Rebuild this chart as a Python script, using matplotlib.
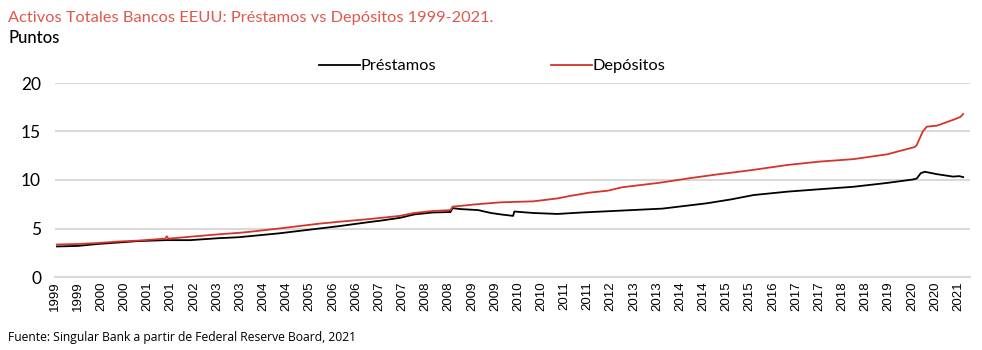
import matplotlib
matplotlib.use("Agg")
import matplotlib.pyplot as plt

# --- data (decimal years) ---
prest_x = [1999.0, 1999.5, 2000.0, 2000.5, 2001.0, 2001.7, 2002.3, 2003.0, 2003.5, 2004.0,
           2004.5, 2005.0, 2005.5, 2006.0, 2006.8, 2007.0, 2007.5, 2007.85, 2008.3, 2008.75,
           2008.8, 2009.0, 2009.43, 2009.75, 2010.0, 2010.3, 2010.33, 2010.8, 2011.4, 2012.0,
           2012.5, 2013.0, 2013.5, 2014.0, 2014.3, 2014.7, 2015.1, 2015.7, 2016.26, 2017.1,
           2017.9, 2018.73, 2019.57, 2020.2, 2020.3, 2020.4, 2020.5, 2020.8, 2021.2, 2021.35,
           2021.45]
prest_y = [3.15, 3.2, 3.4, 3.55, 3.7, 3.8, 3.8, 4.0, 4.1, 4.3,
           4.5, 4.75, 5.0, 5.25, 5.7, 5.8, 6.1, 6.45, 6.65, 6.7,
           7.1, 7.0, 6.9, 6.6, 6.45, 6.3, 6.75, 6.6, 6.5, 6.65,
           6.75, 6.85, 6.95, 7.05, 7.2, 7.4, 7.6, 8.0, 8.45, 8.8,
           9.05, 9.3, 9.7, 10.05, 10.15, 10.7, 10.85, 10.6, 10.35, 10.4,
           10.3]

dep_x = [1999.0, 1999.5, 2000.0, 2000.5, 2001.0, 2001.68, 2001.72, 2001.76, 2002.3, 2003.0,
         2003.5, 2003.8, 2004.5, 2005.0, 2005.5, 2006.0, 2006.8, 2007.5, 2007.85, 2008.3,
         2008.75, 2008.8, 2009.4, 2010.0, 2010.8, 2011.4, 2011.7, 2012.2, 2012.65, 2013.0,
         2013.5, 2013.9, 2014.3, 2014.7, 2015.4, 2015.7, 2016.26, 2017.1, 2017.9, 2018.73,
         2019.57, 2020.25, 2020.3, 2020.45, 2020.55, 2020.8, 2021.0, 2021.2, 2021.38, 2021.45]
dep_y = [3.35, 3.4, 3.5, 3.65, 3.75, 3.95, 4.2, 3.95, 4.15, 4.4,
         4.55, 4.67, 5.0, 5.25, 5.5, 5.7, 6.0, 6.3, 6.6, 6.8,
         6.9, 7.25, 7.5, 7.7, 7.8, 8.1, 8.35, 8.7, 8.9, 9.25,
         9.5, 9.7, 9.95, 10.2, 10.6, 10.75, 11.05, 11.55, 11.9, 12.15,
         12.65, 13.4, 13.6, 15.0, 15.5, 15.6, 15.9, 16.2, 16.5, 16.8]

tick_labels = ["1999", "1999", "2000", "2000", "2001", "2001", "2002", "2003", "2003", "2004",
               "2004", "2005", "2006", "2006", "2007", "2007", "2008", "2008", "2009", "2009",
               "2010", "2010", "2011", "2011", "2012", "2013", "2013", "2014", "2014", "2015",
               "2015", "2016", "2017", "2017", "2018", "2018", "2019", "2020", "2020", "2021"]
y_ticks = [0, 5, 10, 15, 20]

title = "Activos Totales Bancos EEUU: Préstamos vs Depósitos 1999-2021."
subtitle = "Puntos"
source = "Fuente: Singular Bank a partir de Federal Reserve Board, 2021"

RED = "#d6332b"
TITLE_RED = "#e0584c"
GRID = "#d9d9d9"
FONT = "Lato"

fig = plt.figure(figsize=(9.82, 3.5), dpi=100)
ax = fig.add_axes([55/982, 1-277/350, (970-55)/982, (277-83)/350])

x0, x1 = 1999.0, 2021.62
ax.plot(prest_x, prest_y, color="black", lw=1.3, label="Préstamos")
ax.plot(dep_x, dep_y, color=RED, lw=1.3, label="Depósitos")

ax.set_xlim(x0, x1)
ax.set_ylim(0, 20)
ax.set_yticks(y_ticks)
ax.set_yticklabels([str(v) for v in y_ticks], fontfamily=FONT, fontsize=12.5)
ax.yaxis.grid(True, color=GRID, lw=1.5)
ax.set_axisbelow(True)
for s in ["top", "right", "left"]:
    ax.spines[s].set_visible(False)
ax.spines["bottom"].set_color(GRID)
ax.spines["bottom"].set_linewidth(1.5)
ax.tick_params(axis="both", length=0)
ax.tick_params(axis="y", pad=10)

# category-like evenly spaced ticks
t_first = x0 + (53 - 55) / ((963 - 55) / 22.45)
t_last = x0 + (958 - 55) / ((963 - 55) / 22.45)
n = len(tick_labels)
ticks = [t_first + i * (t_last - t_first) / (n - 1) for i in range(n)]
ax.set_xticks(ticks)
ax.set_xticklabels(tick_labels, rotation=90, fontfamily="Liberation Sans", fontsize=9.5)
ax.tick_params(axis="x", pad=3)

leg = ax.legend(loc="upper center", bbox_to_anchor=(0.478, 1.20), ncol=2, frameon=False,
                prop={"family": FONT, "size": 11.8}, handlelength=2.5, columnspacing=7.0,
                handletextpad=0.05)

fig.text(8/982, 1-18/350, title, color=TITLE_RED, fontsize=11.8, fontfamily=FONT, va="center")
fig.text(8/982, 1-38/350, subtitle, color="black", fontsize=12, fontfamily=FONT, va="center",
         fontweight="medium")
fig.text(8/982, 1-338/350, source, color="black", fontsize=8.7, fontfamily="Open Sans", va="center")

fig.savefig("out.png", dpi=100)
